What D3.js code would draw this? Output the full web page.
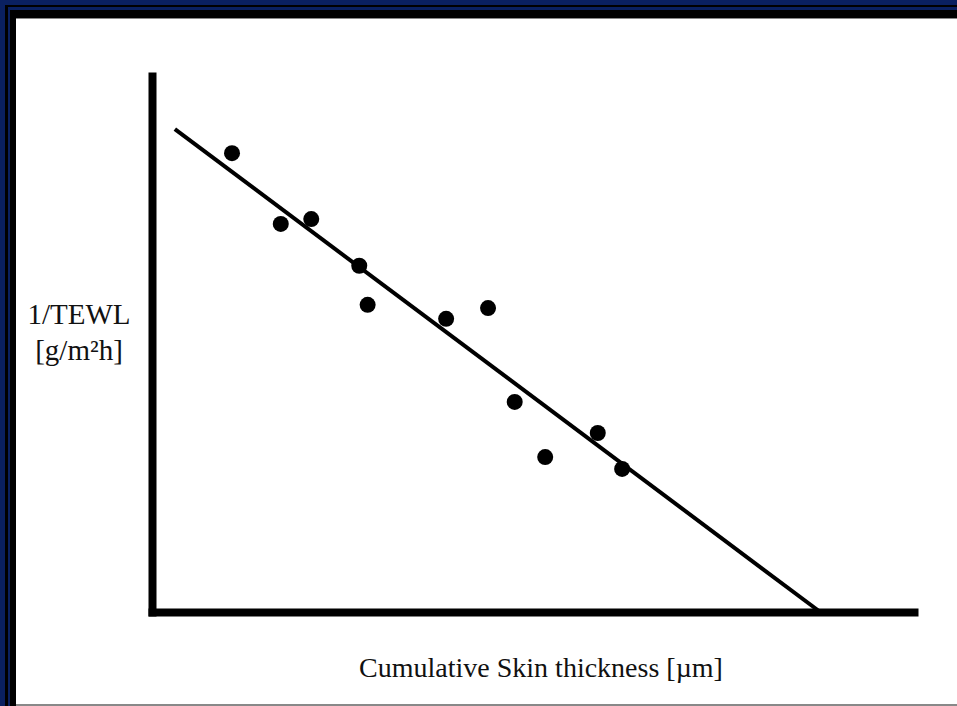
<!DOCTYPE html>
<html>
<head>
<meta charset="utf-8">
<script src="https://cdn.jsdelivr.net/npm/d3@7"></script>
<style>
  body { margin: 0; background: #fff; }
  svg { display: block; }
  .axis .domain { stroke: #000; stroke-width: 8; stroke-linecap: square; }
  .lbl { font-family: "Liberation Serif", "Times New Roman", serif; font-size: 29px; fill: #111; }
  .xlab { font-size: 28px; }
</style>
</head>
<body>
<script>
(function() {
    var w = 957,
        h = 706;

    // thickness values (arbitrary units 0-100)
    var thickness = [10.5, 16.9, 20.9, 27.2, 28.3, 38.6, 44.1, 47.6, 51.6, 58.5, 61.7];
    var invTewl = [85.6, 72.4, 73.3, 64.6, 57.3, 54.7, 56.7, 39.2, 28.9, 33.4, 26.7];
    // fitted line end points
    var fitX = [3.0, 87.7];
    var fitY = [90.1, 0];
    var yLabel = ['1/TEWL', '[g/m\u00b2h]'];
    var xLabel = 'Cumulative Skin thickness [\u00b5m]';

    var svg = d3.select('body')
        .append('svg')
        .attr('width', w)
        .attr('height', h);

    // slide frame: navy and black bands on top and left
    svg.append('rect').attr('width', w).attr('height', h).attr('fill', '#0a2060');
    svg.append('rect').attr('x', 5).attr('y', 5).attr('width', w).attr('height', h).attr('fill', '#000');
    svg.append('rect').attr('x', 8).attr('y', 7).attr('width', w).attr('height', 3).attr('fill', '#0a2060');
    svg.append('rect').attr('x', 8).attr('y', 7).attr('width', 2).attr('height', h).attr('fill', '#0a2060');
    svg.append('rect').attr('x', 16).attr('y', 18).attr('width', w).attr('height', h).attr('fill', '#888');
    svg.append('rect').attr('x', 16).attr('y', 19).attr('width', w).attr('height', 685).attr('fill', '#fff');

    var x = d3.scaleLinear().domain([0, 100]).range([152, 914]);
    var y = d3.scaleLinear().domain([0, 100]).range([612, 76]);

    svg.append('g')
        .attr('class', 'axis')
        .attr('transform', 'translate(0,' + y(0) + ')')
        .call(d3.axisBottom(x).ticks(0).tickSizeOuter(0));
    svg.append('g')
        .attr('class', 'axis')
        .attr('transform', 'translate(' + x(0) + ',0)')
        .call(d3.axisLeft(y).ticks(0).tickSizeOuter(0));

    var line = d3.line()
        .x(function(d) { return x(d[0]); })
        .y(function(d) { return y(d[1]); });
    svg.append('path')
        .datum(d3.zip(fitX, fitY))
        .attr('d', line)
        .attr('fill', 'none')
        .attr('stroke', '#000')
        .attr('stroke-width', 4);

    svg.selectAll('circle.pt')
        .data(d3.zip(thickness, invTewl))
        .enter()
        .append('circle')
        .attr('class', 'pt')
        .attr('cx', function(d) { return x(d[0]); })
        .attr('cy', function(d) { return y(d[1]); })
        .attr('r', 8)
        .attr('fill', '#000');

    svg.selectAll('text.ylab')
        .data(yLabel)
        .enter()
        .append('text')
        .attr('class', 'lbl ylab')
        .attr('x', 79)
        .attr('y', function(d, i) { return 324 + i * 36; })
        .attr('text-anchor', 'middle')
        .text(function(d) { return d; });

    svg.append('text')
        .attr('class', 'lbl xlab')
        .attr('x', 541)
        .attr('y', 677)
        .attr('text-anchor', 'middle')
        .text(xLabel);
})();
</script>
</body>
</html>
